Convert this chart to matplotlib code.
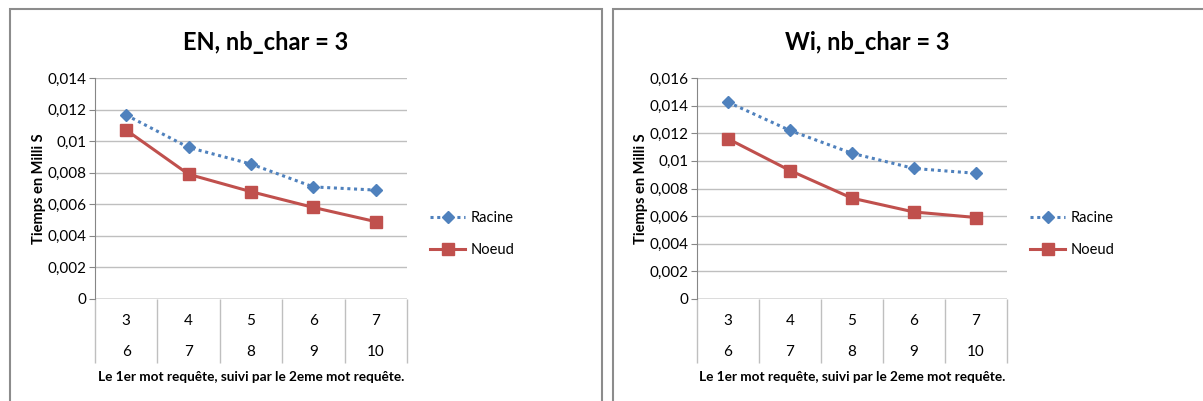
import matplotlib.pyplot as plt
from matplotlib.patches import Rectangle
from matplotlib.ticker import FuncFormatter

plt.rcParams['font.family'] = ['Lato', 'DejaVu Sans']

# données
mot1 = ['3', '4', '5', '6', '7']
mot2 = ['6', '7', '8', '9', '10']
en_racine = [0.01165, 0.0096, 0.00855, 0.0071, 0.0069]
en_noeud = [0.0107, 0.0079, 0.0068, 0.0058, 0.0049]
wi_racine = [0.01425, 0.0122, 0.01055, 0.00945, 0.0091]
wi_noeud = [0.0116, 0.0093, 0.0073, 0.0063, 0.0059]

W, H = 1203, 401
BLUE = '#4F81BD'
RED = '#C0504D'
GRID = '#BFBFBF'
AXC = '#868686'

fig = plt.figure(figsize=(W / 100, H / 100), dpi=100)


def px(x0, y0, x1, y1):
    return [x0 / W, 1 - y1 / H, (x1 - x0) / W, (y1 - y0) / H]


def chart(box, area, title, title_x, racine, noeud, ymax, leg_x):
    # cadre du graphique
    bx0, bx1 = box
    fig.patches.append(Rectangle((bx0 / W, -0.1), (bx1 - bx0) / W, 1 - 8.5 / H + 0.1,
                                 transform=fig.transFigure, fill=False,
                                 edgecolor='#8C8C8C', linewidth=1.5))
    ax = fig.add_axes(px(area[0], 78, area[1], 299))
    x = range(len(mot1))
    l1, = ax.plot(x, racine, color=BLUE, linestyle=(0, (1, 1.2)), linewidth=2.2,
                  marker='D', markersize=6, label='Racine', zorder=3)
    l2, = ax.plot(x, noeud, color=RED, linewidth=2.2, marker='s', markersize=8,
                  label='Noeud', zorder=3)
    ax.set_xlim(-0.5, len(mot1) - 0.5)
    ax.set_ylim(0, ymax)
    ax.set_yticks([i * 0.002 for i in range(int(round(ymax / 0.002)) + 1)])
    ax.yaxis.set_major_formatter(FuncFormatter(lambda v, p: f"{v:g}".replace('.', ',')))
    ax.tick_params(axis='y', labelsize=11, length=4, color=AXC, pad=2)
    ax.grid(axis='y', color=GRID, linewidth=1)
    ax.set_xticks([])
    for s in ['top', 'right', 'bottom']:
        ax.spines[s].set_visible(False)
    ax.spines['left'].set_color(AXC)
    ax.axhline(0, color=AXC, linewidth=1, zorder=2)
    # séparateurs des catégories
    tr = ax.get_xaxis_transform()
    ax.vlines([i - 0.5 for i in range(len(mot1) + 1)], -64 / 221, 0, transform=tr,
              color=GRID, linewidth=1, clip_on=False)
    for i, (a, b) in enumerate(zip(mot1, mot2)):
        ax.text(i, -22 / 221, a, transform=tr, ha='center', va='center', fontsize=11)
        ax.text(i, -53 / 221, b, transform=tr, ha='center', va='center', fontsize=11)
    ax.set_ylabel('Tiemps en Milli S', fontsize=10.5, fontweight='bold', labelpad=1)
    ax.text(0.5, -78 / 221, 'Le 1er mot requête, suivi par le 2eme mot requête.',
            transform=ax.transAxes, ha='center', va='center', fontsize=9.8,
            fontweight='bold')
    fig.text(title_x / W, 1 - 42 / H, title, ha='center', va='center',
             fontsize=17, fontweight='bold')
    fig.legend([l1, l2], ['Racine', 'Noeud'], loc='center left',
               bbox_to_anchor=(leg_x / W, 1 - 234 / H), frameon=False, fontsize=10.5,
               handlelength=2.4, handletextpad=0.4, labelspacing=1.25, numpoints=1,
               borderpad=0, borderaxespad=0)
    return ax


chart((9.5, 602), (95, 407), 'EN, nb_char = 3', 266, en_racine, en_noeud, 0.014, 430)
chart((613, 1225), (697, 1007), 'Wi, nb_char = 3', 867, wi_racine, wi_noeud, 0.016, 1030)

plt.savefig('out.png', dpi=100)
